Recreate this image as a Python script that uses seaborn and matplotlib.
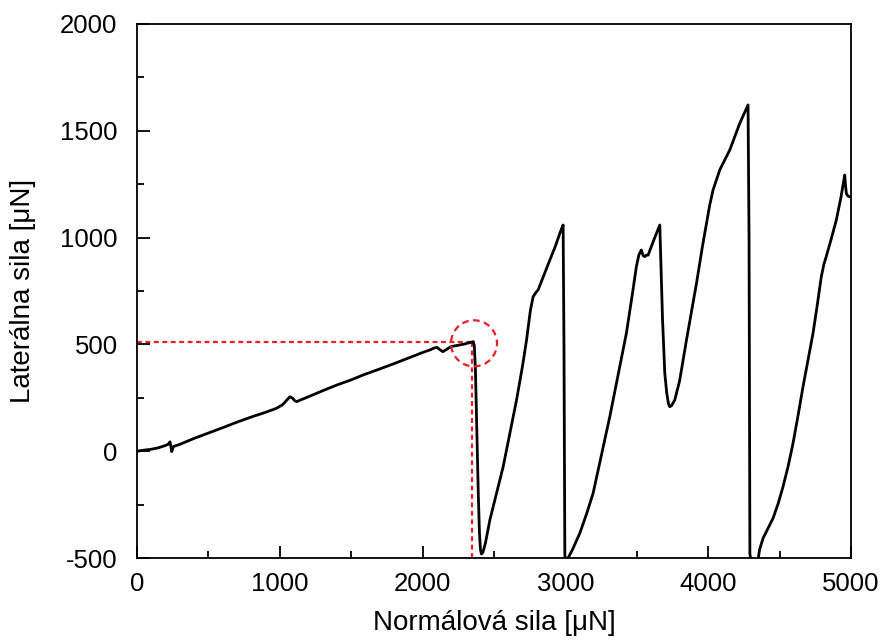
import matplotlib
matplotlib.use("Agg")
import matplotlib.pyplot as plt
from matplotlib.patches import Ellipse
from matplotlib.ticker import MultipleLocator
import seaborn as sns
import pandas as pd

# Normal force [uN]
normal_force = [0, 50, 100, 150, 200, 220, 231, 236, 243, 255, 300, 400, 500, 600, 700, 800,
                900, 978, 1020, 1050, 1071, 1090, 1105, 1118, 1200, 1300, 1400, 1500, 1584,
                1700, 1800, 1900, 2000, 2051, 2080, 2100, 2120, 2142, 2200, 2250, 2300, 2355,
                2362, 2370, 2380, 2390, 2398, 2405, 2412, 2422, 2440, 2471, 2520, 2564, 2610,
                2658, 2700, 2728, 2755, 2774, 2790, 2809, 2850, 2891, 2930, 2961, 2975, 2984,
                2990, 2996, 3005, 3018, 3050, 3101, 3150, 3194, 3250, 3311, 3370, 3427, 3470,
                3497, 3515, 3532, 3545, 3556, 3567, 3579, 3620, 3661, 3668, 3680, 3696, 3710,
                3722, 3731, 3745, 3766, 3800, 3848, 3918, 3960, 3988, 4010, 4034, 4081, 4151,
                4221, 4279, 4286, 4292, 4310, 4349, 4360, 4384, 4420, 4454, 4490, 4524, 4560,
                4594, 4630, 4664, 4700, 4734, 4765, 4792, 4810, 4823, 4860, 4897, 4930, 4956,
                4962, 4968, 4978, 4991]
# Lateral force [uN]
lateral_force = [0, 5, 9, 16, 27, 33, 44, 28, -2, 22, 32, 60, 85, 110, 136, 160,
                 182, 201, 218, 240, 255, 248, 236, 232, 255, 283, 310, 334, 357,
                 385, 410, 436, 462, 474, 483, 486, 476, 466, 490, 496, 503, 513,
                 495, 380, 100, -200, -380, -460, -481, -474, -430, -322, -190, -73, 80,
                 240, 400, 521, 660, 723, 740, 755, 825, 895, 960, 1020, 1045, 1059,
                 500, -480, -560, -501, -460, -384, -290, -197, -25, 162, 360, 552, 740,
                 864, 920, 942, 915, 911, 918, 918, 990, 1059, 900, 620, 365, 270,
                 222, 208, 215, 240, 330, 521, 786, 960, 1067, 1150, 1223, 1317, 1410,
                 1535, 1621, 1000, -480, -560, -509, -460, -408, -360, -314, -245, -166, -70,
                 37, 170, 302, 430, 552, 690, 817, 875, 903, 990, 1082, 1190, 1293,
                 1240, 1205, 1195, 1191]

# Marked critical point
crit_x = 2345
crit_y = 510

df = pd.DataFrame({"Normal": normal_force, "Lateral": lateral_force})

sns.set_style("white")
plt.rcParams["font.family"] = ["Liberation Sans", "DejaVu Sans"]
plt.rcParams["axes.unicode_minus"] = False
plt.rcParams["text.color"] = "black"
plt.rcParams["axes.labelcolor"] = "black"

fig = plt.figure(figsize=(8.84, 6.4), dpi=100)
ax = fig.add_axes([137 / 884, 1 - 558 / 640, (851 - 137) / 884, (558 - 24) / 640])

sns.lineplot(data=df, x="Normal", y="Lateral", sort=False, estimator=None,
             color="black", linewidth=2.0, ax=ax, zorder=3)

red = "#e8202a"
dash = (0, (2.2, 1.6))
ax.plot([0, crit_x + 15], [crit_y, crit_y], color=red, lw=1.6, linestyle=dash, zorder=2)
ax.plot([crit_x, crit_x], [-500, crit_y], color=red, lw=1.6, linestyle=dash, zorder=2)
ax.add_patch(Ellipse((2360, 505), 322, 216, fill=False, edgecolor=red, lw=1.6,
                     linestyle=(0, (3, 2)), zorder=4))

ax.set_xlim(0, 5000)
ax.set_ylim(-500, 2000)
ax.xaxis.set_major_locator(MultipleLocator(1000))
ax.xaxis.set_minor_locator(MultipleLocator(500))
ax.yaxis.set_major_locator(MultipleLocator(500))
ax.yaxis.set_minor_locator(MultipleLocator(250))
ax.tick_params(which="both", direction="in", top=False, right=False,
               bottom=True, left=True, width=1.3, colors="black")
ax.tick_params(axis="y", which="major", length=9, labelsize=18.5, pad=14)
ax.tick_params(axis="x", which="major", length=9, labelsize=18.5, pad=10)
ax.tick_params(which="minor", length=5)
for s in ax.spines.values():
    s.set_visible(True)
    s.set_color("black")
    s.set_linewidth(1.3)

ax.set_xlabel("Normálová sila [μN]", fontsize=20, color="black")
ax.set_ylabel("Laterálna sila [μN]", fontsize=20, color="black")
ax.xaxis.set_label_coords(0.5, (558 - 610) / 534)
ax.yaxis.set_label_coords((36 - 137) / 714, 0.5)

fig.savefig("out.png", dpi=100, facecolor="white")
